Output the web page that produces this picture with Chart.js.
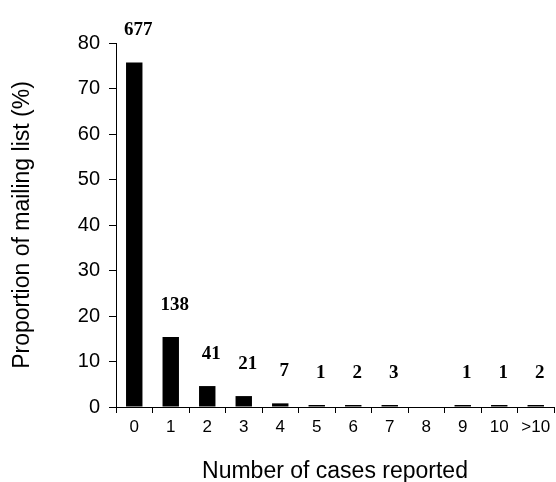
<!DOCTYPE html>
<html>
<head>
<meta charset="utf-8">
<script src="https://cdn.jsdelivr.net/npm/chart.js@4.4.1/dist/chart.umd.min.js"></script>
<style>
  html, body { margin: 0; padding: 0; background: #fff; }
  #wrap { width: 556px; height: 482px; position: relative; }
</style>
</head>
<body>
<div id="wrap"><canvas id="chart"></canvas></div>
<script>
// categories = number of cases reported
const categories = ["0", "1", "2", "3", "4", "5", "6", "7", "8", "9", "10", ">10"];
// proportion of mailing list (%)
const proportions = [75.7, 15.4, 4.6, 2.4, 0.8, 0.1, 0.2, 0.3, 0, 0.1, 0.1, 0.2];
// counts printed above bars
const counts = [677, 138, 41, 21, 7, 1, 2, 3, null, 1, 1, 2];
const yTicks = [0, 10, 20, 30, 40, 50, 60, 70, 80];

const sans = "'Liberation Sans', Arial, sans-serif";

const countLabels = {
  id: "countLabels",
  afterDatasetsDraw(chart) {
    const ctx = chart.ctx;
    const meta = chart.getDatasetMeta(0);
    ctx.save();
    ctx.font = "bold 19px 'Liberation Serif', 'Times New Roman', serif";
    ctx.fillStyle = "#000";
    ctx.textAlign = "center";
    ctx.textBaseline = "middle";
    meta.data.forEach((bar, i) => {
      if (counts[i] === null || !bar) return;
      ctx.fillText(String(counts[i]), bar.x + 4, bar.y - 32);
    });
    ctx.restore();
  },
};

new Chart(document.getElementById("chart"), {
  type: "bar",
  data: {
    labels: categories,
    datasets: [
      {
        // an empty category gets no bar at all
        data: proportions.map((v) => (v === 0 ? null : v)),
        backgroundColor: "#000",
        borderWidth: 0,
        barPercentage: 0.45,
        categoryPercentage: 1,
        minBarLength: 2,
      },
    ],
  },
  options: {
    responsive: true,
    maintainAspectRatio: false,
    animation: false,
    devicePixelRatio: 1,
    layout: { padding: { top: 43, right: 2, left: 0, bottom: 0 } },
    plugins: {
      legend: { display: false },
      tooltip: { enabled: false },
    },
    scales: {
      x: {
        afterFit: (scale) => { scale.height = 75; },
        grid: {
          offset: true,
          drawOnChartArea: false,
          drawTicks: true,
          tickLength: 6,
          color: "#000",
        },
        border: { display: true, color: "#000", width: 1 },
        ticks: {
          color: "#000",
          font: { family: sans, size: 17 },
          padding: 4,
          maxRotation: 0,
          autoSkip: false,
        },
        title: {
          display: true,
          text: "Number of cases reported",
          color: "#000",
          font: { family: sans, size: 23 },
          padding: { top: 0, bottom: -3 },
        },
      },
      y: {
        min: 0,
        max: 80,
        afterFit: (scale) => { scale.width = 116; },
        afterBuildTicks: (scale) => {
          scale.ticks = yTicks.map((v) => ({ value: v }));
        },
        grid: {
          drawOnChartArea: false,
          drawTicks: true,
          tickLength: 7,
          color: "#000",
        },
        border: { display: true, color: "#000", width: 1 },
        ticks: {
          color: "#000",
          font: { family: sans, size: 20 },
          padding: 9,
        },
        title: {
          display: true,
          text: "Proportion of mailing list (%)",
          color: "#000",
          font: { family: sans, size: 23 },
          padding: { top: 9, bottom: 0 },
        },
      },
    },
  },
  plugins: [countLabels],
});
</script>
</body>
</html>
